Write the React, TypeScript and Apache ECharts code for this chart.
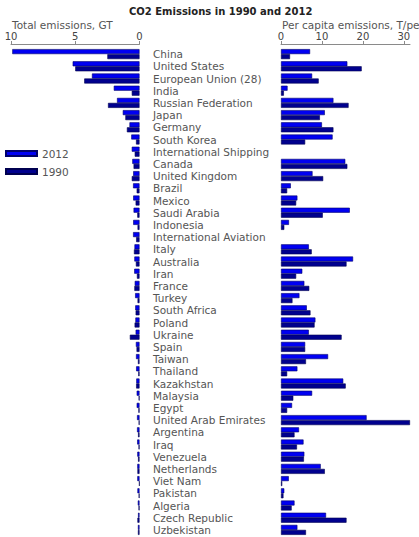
import React, { useEffect, useRef } from "react";
import * as echarts from "echarts";

const categories = [
  "China", "United States", "European Union (28)", "India", "Russian Federation",
  "Japan", "Germany", "South Korea", "International Shipping", "Canada",
  "United Kingdom", "Brazil", "Mexico", "Saudi Arabia", "Indonesia",
  "International Aviation", "Italy", "Australia", "Iran", "France",
  "Turkey", "South Africa", "Poland", "Ukraine", "Spain",
  "Taiwan", "Thailand", "Kazakhstan", "Malaysia", "Egypt",
  "United Arab Emirates", "Argentina", "Iraq", "Venezuela", "Netherlands",
  "Viet Nam", "Pakistan", "Algeria", "Czech Republic", "Uzbekistan",
];

// Total emissions, GT
const total2012 = [
  9.9, 5.2, 3.7, 2.0, 1.75,
  1.3, 0.78, 0.64, 0.6, 0.56,
  0.49, 0.5, 0.49, 0.46, 0.49,
  0.5, 0.39, 0.4, 0.41, 0.37,
  0.34, 0.33, 0.32, 0.3, 0.28,
  0.27, 0.26, 0.25, 0.22, 0.22,
  0.19, 0.19, 0.18, 0.17, 0.17,
  0.17, 0.16, 0.13, 0.11, 0.12,
];
const total1990 = [
  2.5, 5.0, 4.3, 0.6, 2.45,
  1.1, 0.98, 0.27, 0.37, 0.46,
  0.6, 0.22, 0.3, 0.17, 0.15,
  0.26, 0.43, 0.28, 0.2, 0.4,
  0.15, 0.3, 0.38, 0.75, 0.23,
  0.12, 0.09, 0.26, 0.06, 0.08,
  0.06, 0.11, 0.07, 0.11, 0.16,
  0.02, 0.06, 0.07, 0.16, 0.12,
];

// Per capita emissions, T/person
const perCapita2012 = [
  7.1, 16.2, 7.6, 1.6, 12.8,
  10.7, 10.0, 12.6, null, 15.7,
  7.7, 2.4, 4.0, 16.8, 1.95,
  null, 6.8, 17.6, 5.2, 5.7,
  4.5, 6.3, 8.4, 6.8, 5.9,
  11.5, 4.0, 15.2, 7.6, 2.7,
  20.9, 4.4, 5.5, 5.7, 9.7,
  1.9, 0.8, 3.3, 11.0, 4.0,
];
const perCapita1990 = [
  2.2, 19.7, 9.2, 0.7, 16.5,
  9.5, 12.8, 5.9, null, 16.2,
  10.3, 1.5, 3.7, 10.2, 0.8,
  null, 7.5, 16.0, 3.7, 6.9,
  2.8, 7.2, 8.2, 14.8, 5.9,
  6.1, 1.5, 15.8, 3.0, 1.5,
  31.5, 3.3, 3.9, 5.6, 10.7,
  0.3, 0.6, 2.6, 16.0, 6.1,
];

const totalTicks = [0, 5, 10];
const perCapitaTicks = [0, 10, 20, 30];

const FONT = "DejaVu Sans";
const TEXT = "#555";
const AXIS = "#8a8a8a";
const C2012 = "#0000f2";
const C1990 = "#00008e";

export default function App() {
  const ref = useRef<HTMLDivElement>(null);

  useEffect(() => {
    if (!ref.current) return;
    const chart = echarts.init(ref.current, null, { renderer: "svg" });

    const valueAxisCommon = {
      type: "value" as const,
      position: "top" as const,
      offset: 4,
      axisLine: { show: true, lineStyle: { color: AXIS, width: 1 } },
      axisTick: { show: true, length: 3, lineStyle: { color: AXIS } },
      axisLabel: { fontSize: 10, fontFamily: FONT, color: "#444", margin: 3 },
      splitLine: { show: false },
    };

    const barCommon = {
      type: "bar" as const,
      barWidth: 5,
      barGap: "0%",
      clip: false,
    };
    const style2012 = { color: C2012, borderColor: "#00006a", borderWidth: 0.6 };
    const style1990 = { color: C1990, borderColor: "#000050", borderWidth: 0.6 };

    chart.setOption({
      animation: false,
      backgroundColor: "#fff",
      title: {
        text: "CO2 Emissions in 1990 and 2012",
        left: 129,
        top: 6,
        padding: 0,
        textStyle: { fontFamily: FONT, fontSize: 10, fontWeight: "bold", color: "#222" },
      },
      legend: {
        data: ["2012", "1990"],
        orient: "vertical",
        left: 5,
        top: 147,
        padding: 0,
        icon: "rect",
        itemWidth: 31,
        itemHeight: 5,
        itemGap: 5,
        textStyle: { fontFamily: FONT, fontSize: 10.5, color: TEXT, lineHeight: 13 },
      },
      graphic: [
        {
          type: "text",
          left: 12,
          top: 19,
          style: { text: "Total emissions, GT", font: `10.5px "${FONT}"`, fill: TEXT },
        },
        {
          type: "text",
          left: 282,
          top: 19,
          style: { text: "Per capita emissions, T/person", font: `10.5px "${FONT}"`, fill: TEXT },
        },
      ],
      grid: [
        { left: 11, right: 279.5, top: 48, bottom: 1, outerBoundsMode: "none" },
        { left: 281, right: 9, top: 48, bottom: 1, outerBoundsMode: "none" },
      ],
      xAxis: [
        {
          ...valueAxisCommon,
          gridIndex: 0,
          min: 0,
          max: 10,
          interval: 5,
          inverse: true,
          axisTick: { ...valueAxisCommon.axisTick, customValues: totalTicks },
          axisLabel: { ...valueAxisCommon.axisLabel, customValues: totalTicks },
        },
        {
          ...valueAxisCommon,
          gridIndex: 1,
          min: 0,
          max: 31.5,
          axisTick: { ...valueAxisCommon.axisTick, customValues: perCapitaTicks },
          axisLabel: { ...valueAxisCommon.axisLabel, customValues: perCapitaTicks },
        },
      ],
      yAxis: [
        {
          gridIndex: 0,
          type: "category",
          data: categories,
          inverse: true,
          position: "right",
          axisLine: { show: false },
          axisTick: { show: false },
          axisLabel: {
            interval: 0,
            margin: 13.5,
            align: "left",
            fontFamily: FONT,
            fontSize: 10.5,
            color: TEXT,
          },
        },
        {
          gridIndex: 1,
          type: "category",
          data: categories,
          inverse: true,
          show: false,
        },
      ],
      series: [
        { ...barCommon, name: "2012", xAxisIndex: 0, yAxisIndex: 0, data: total2012, itemStyle: style2012 },
        { ...barCommon, name: "1990", xAxisIndex: 0, yAxisIndex: 0, data: total1990, itemStyle: style1990 },
        { ...barCommon, name: "2012", xAxisIndex: 1, yAxisIndex: 1, data: perCapita2012, itemStyle: style2012 },
        { ...barCommon, name: "1990", xAxisIndex: 1, yAxisIndex: 1, data: perCapita1990, itemStyle: style1990 },
      ],
    });

    return () => chart.dispose();
  }, []);

  return (
    <div
      ref={ref}
      style={{ position: "absolute", left: 0, top: 0, width: 419, height: 537 }}
    />
  );
}
